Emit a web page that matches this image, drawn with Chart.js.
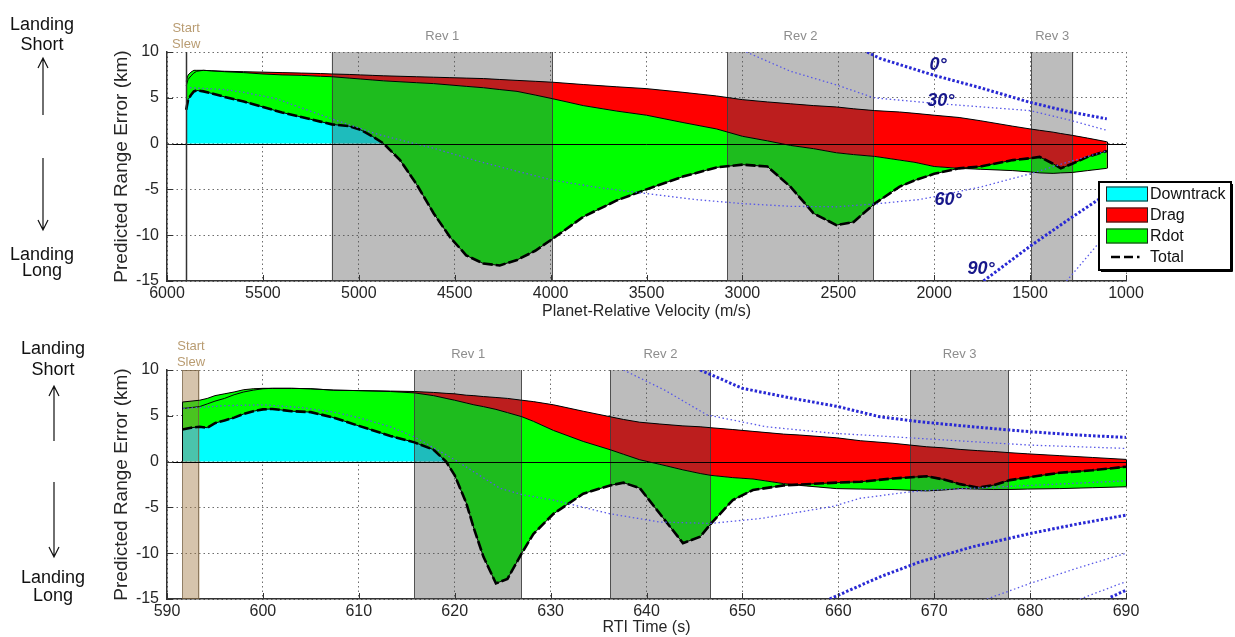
<!DOCTYPE html>
<html>
<head>
<meta charset="utf-8">
<title>Predicted Range Error Contributions</title>
<script src="https://cdn.jsdelivr.net/npm/chart.js@4.4.1/dist/chart.umd.min.js"></script>
<style>
  html, body { margin: 0; padding: 0; background: #fff; }
  #wrap { position: relative; width: 1235px; height: 637px; overflow: hidden; background: #fff; }
  #wrap canvas { position: absolute; left: 0; top: 0; }
</style>
</head>
<body>
<div id="wrap">
  <canvas id="velocityPanel" width="1235" height="637"></canvas>
  <canvas id="timePanel" width="1235" height="637"></canvas>
</div>
<script>
// ---------- Upper panel: contributions vs planet-relative velocity (m/s) ----------
const velocity = [5900, 5890, 5875, 5860, 5845, 5810, 5770, 5700, 5600, 5500,
  5400, 5300, 5200, 5140, 5050, 4990, 4930, 4870, 4785, 4700,
  4610, 4525, 4440, 4350, 4265, 4175, 4080, 3990, 3830, 3655,
  3500, 3310, 3135, 3000, 2870, 2750, 2630, 2510, 2420, 2310,
  2180, 2100, 2000, 1870, 1760, 1590, 1500, 1450, 1380, 1340,
  1280, 1200, 1100];
const velDowntrack = [6.3, 7.0, 7.4, 7.7, 7.9, 8.0, 7.95, 7.9, 7.85, 7.8,
  7.75, 7.7, 7.65, 7.6, 7.55, 7.5, 7.45, 7.4, 7.35, 7.3,
  7.25, 7.2, 7.15, 7.1, 7.0, 6.9, 6.8, 6.7, 6.45, 6.2,
  6.0, 5.6, 5.2, 4.8, 4.55, 4.35, 4.15, 4.0, 3.8, 3.6,
  3.45, 3.3, 3.1, 2.85, 2.5, 1.9, 1.6, 1.45, 1.25, 1.1,
  0.9, 0.6, 0.2];
const velDrag = [0.5, 0.5, 0.4, 0.3, 0.1, 0.0, 0.0, -0.05, -0.1, -0.2,
  -0.25, -0.25, -0.3, -0.3, -0.4, -0.45, -0.5, -0.55, -0.6, -0.65,
  -0.7, -0.8, -0.9, -1.0, -1.1, -1.2, -1.5, -1.8, -2.3, -2.65,
  -2.9, -3.3, -3.6, -4.0, -4.25, -4.55, -4.7, -5.0, -5.0, -5.0,
  -5.25, -5.35, -5.6, -5.55, -5.3, -4.85, -4.7, -4.65, -4.5, -4.3,
  -4.05, -3.55, -2.9];
const velRdot = [-3.1, -2.7, -2.5, -2.3, -2.2, -2.3, -2.45, -2.75, -3.15, -3.6,
  -4.1, -4.55, -4.95, -5.2, -5.25, -5.55, -6.15, -6.85, -8.55, -11.05,
  -14.15, -16.6, -18.45, -19.2, -19.2, -18.4, -17.0, -15.3, -12.15, -9.75,
  -8.1, -5.9, -4.2, -3.1, -2.8, -4.5, -7.05, -7.9, -7.35, -5.15,
  -2.9, -1.95, -0.8, 0.0, 0.3, 1.15, 1.5, 1.75, 1.05, 0.5,
  0.95, 1.5, 1.9];

// bank-angle reference curves (velocity, km)
const velBank0 = [[2350, 10], [2283, 9.3], [2000, 7.45], [1760, 6.1], [1500, 4.5], [1300, 3.5], [1100, 2.7]];
const velBank30 = [[2980, 10], [2750, 7.9], [2509, 6.4], [2314, 5.0], [2000, 4.4], [1750, 4.0], [1500, 3.6], [1300, 2.6], [1100, 1.45]];
const velBank60 = [[5880, 6.1], [5700, 5.9], [5600, 5.6], [5430, 4.9], [5300, 3.9], [5141, 2.7], [4900, 1.0],
  [4611, -0.5], [4400, -1.8], [4160, -3.1], [3986, -4.0], [3750, -4.8], [3500, -5.46], [3250, -6.1],
  [3000, -6.55], [2750, -6.85], [2509, -6.9], [2314, -6.6], [2074, -6.1], [2000, -5.8], [1750, -4.7],
  [1500, -3.3], [1300, -2.0], [1100, -0.8]];
const velBank90 = [[1743, -15], [1500, -11.2], [1300, -8.3], [1150, -6.2], [1100, -5.6]];
const velBankLow = [[1310, -15], [1200, -12.3], [1100, -9.8]];
const velBankLabels = [['0°', 1980, 8.6], ['30°', 1965, 4.65], ['60°', 1928, -6.15], ['90°', 1756, -13.7]];

const velocityRevs = [['Rev 1', 5141, 3988], ['Rev 2', 3080, 2314], ['Rev 3', 1495, 1275]];
const velocitySlew = 5900;
const velocityTicks = [6000, 5500, 5000, 4500, 4000, 3500, 3000, 2500, 2000, 1500, 1000];

// ---------- Lower panel: contributions vs RTI time (s) ----------
const rtiTime = [591.6, 592.5, 593.4, 594.2, 595.0, 596.0, 597.0, 598.0, 599.0, 600.0,
  601.0, 603.0, 605.0, 607.4, 610.0, 613.3, 615.8, 617.8, 619.1, 620.0,
  621.2, 622.0, 623.0, 624.3, 625.5, 627.0, 628.2, 630.3, 633.4, 636.2,
  637.6, 639.3, 641.4, 643.8, 645.6, 646.7, 649.0, 651.1, 654.3, 656.0,
  659.8, 662.3, 665.7, 669.2, 671.0, 672.7, 674.5, 676.2, 677.9, 679.7,
  683.1, 686.5, 690.0];
const timeDowntrack = [5.8, 5.9, 6.0, 6.3, 6.6, 6.9, 7.3, 7.6, 7.8, 7.95,
  8.0, 8.0, 7.95, 7.8, 7.75, 7.7, 7.65, 7.55, 7.45, 7.4,
  7.25, 7.2, 7.1, 7.0, 6.9, 6.7, 6.55, 6.2, 5.5, 4.9,
  4.6, 4.3, 4.1, 3.9, 3.8, 3.7, 3.5, 3.3, 3.0, 2.9,
  2.6, 2.28, 2.0, 1.62, 1.5, 1.33, 1.2, 1.1, 0.97, 0.85,
  0.65, 0.45, 0.24];
const timeDrag = [0.7, 0.7, 0.7, 0.6, 0.6, 0.5, 0.3, 0.25, 0.15, 0.05,
  0.0, 0.0, 0.0, 0.0, 0.0, -0.05, -0.15, -0.35, -0.55, -0.7,
  -0.85, -1.0, -1.1, -1.3, -1.55, -1.8, -2.15, -2.8, -3.3, -3.6,
  -3.8, -4.1, -4.4, -4.8, -5.1, -5.2, -5.25, -5.2, -5.4, -5.5,
  -5.55, -5.28, -5.05, -4.82, -4.6, -4.28, -4.2, -4.15, -4.01, -3.85,
  -3.6, -3.3, -2.99];
const timeRdot = [-3.0, -2.9, -2.9, -3.2, -3.0, -2.9, -2.8, -2.65, -2.45, -2.3,
  -2.25, -2.5, -2.55, -3.0, -3.85, -4.85, -5.4, -5.9, -6.9, -8.2,
  -10.9, -13.5, -16.4, -19.0, -18.15, -14.9, -12.3, -9.1, -5.7, -3.9,
  -3.1, -3.1, -5.4, -8.0, -6.9, -5.3, -2.45, -1.2, -0.2, 0.1,
  0.65, 0.8, 1.21, 1.6, 1.15, 0.49, 0.17, 0.48, 1.02, 1.27,
  1.73, 1.9, 2.19];

const timeBank0 = [[645.6, 10], [650, 8.0], [655, 6.95], [660, 6.0], [664.3, 4.9], [668.5, 4.35], [674, 3.8], [680, 3.26], [685, 2.9], [690, 2.64]];
const timeBank30 = [[637.6, 10], [641.9, 7.8], [646.3, 5.1], [652.5, 3.8], [659.4, 3.1], [668.5, 2.53], [680, 1.8], [690, 1.44]];
const timeBank60 = [[591.7, 5.8], [596, 6.1], [600, 6.2], [604, 5.9], [607.4, 5.4], [610, 4.8], [613.3, 3.8], [615.8, 2.7],
  [620, 0.2], [624.7, -2.9], [627, -3.6], [630.3, -4.2], [636.2, -5.7], [641.4, -6.6], [646.7, -6.75],
  [652, -6.2], [659.4, -4.9], [662.3, -4.0], [667.5, -3.3], [670, -3.1], [680, -2.6], [690, -2.1]];
const timeBank90 = [[659.1, -15], [664.3, -12.6], [668.5, -10.95], [674, -9.3], [680, -7.85], [685, -6.8], [690, -5.85]];
const timeBankLow1 = [[675.5, -15], [680, -13.3], [685, -11.6], [690, -10.0]];
const timeBankLow2 = [[685.2, -15], [690, -13.1]];
const timeBankLow3 = [[688.4, -14.8], [690, -14.05]];

const timeRevs = [['Rev 1', 615.8, 627.0], ['Rev 2', 636.2, 646.7], ['Rev 3', 667.5, 677.8]];
const timeSlew = [591.6, 593.4];
const timeTicks = [590, 600, 610, 620, 630, 640, 650, 660, 670, 680, 690];

const errorTicks = [-15, -10, -5, 0, 5, 10];
const seriesNames = ['Downtrack', 'Drag', 'Rdot', 'Total'];

// ---------- drawing helpers ----------
const FONT = "'Liberation Sans', Arial, Helvetica, sans-serif";
const CYAN = '#00ffff', RED = '#ff0000', GREEN = '#00ff00';
const AXIS_TEXT = '#262626';

// running sums: downtrack, then + drag, then + rdot (= total)
function edgesFrom(xs, downtrack, drag, rdot) {
  const e1 = [], e2 = [], e3 = [];
  xs.forEach((x, i) => {
    const a = downtrack[i], b = a + drag[i], c = b + rdot[i];
    e1.push({x, y: a}); e2.push({x, y: b}); e3.push({x, y: c});
  });
  return {e1, e2, e3};
}

function guide(pts, heavy) {
  return {
    data: pts.map(([x, y]) => ({x, y})), fill: false, order: 0,
    borderColor: heavy ? 'rgb(40,40,212)' : 'rgb(88,88,232)',
    borderWidth: heavy ? 3 : 1.3,
    borderDash: heavy ? [2.5, 2] : [1.5, 2.6]
  };
}

function contributionSets(edges) {
  return [
    {label: seriesNames[0], data: edges.e1, fill: 'origin', backgroundColor: CYAN, borderColor: '#000', borderWidth: 1, order: 4},
    {label: seriesNames[1], data: edges.e2, fill: '-1', backgroundColor: RED, borderColor: '#000', borderWidth: 1, order: 3},
    {label: seriesNames[2], data: edges.e3, fill: '-1', backgroundColor: GREEN, borderColor: '#000', borderWidth: 1, order: 2},
    {label: seriesNames[3], data: edges.e3, fill: false, borderColor: '#000', borderWidth: 2.6, borderDash: [10, 3], order: 1}
  ];
}

function arrow(ctx, x, yFrom, yTo) {
  const d = yTo < yFrom ? 1 : -1;
  ctx.beginPath();
  ctx.moveTo(x, yFrom); ctx.lineTo(x, yTo);
  ctx.moveTo(x - 5, yTo + d * 10); ctx.lineTo(x, yTo); ctx.lineTo(x + 5, yTo + d * 10);
  ctx.stroke();
}

function makeDecor(p) {
  return {
    id: 'panelDecor',
    beforeDatasetsDraw(chart) {
      const {ctx, chartArea: a, scales: {x}} = chart;
      ctx.save();
      p.revs.forEach(([, v0, v1]) => {
        const q0 = x.getPixelForValue(v0), q1 = x.getPixelForValue(v1);
        const l = Math.min(q0, q1), r = Math.max(q0, q1);
        ctx.fillStyle = 'rgba(80,80,80,0.38)';
        ctx.fillRect(l, a.top, r - l, a.bottom - a.top);
        ctx.strokeStyle = 'rgba(60,60,60,0.85)';
        ctx.lineWidth = 1;
        ctx.beginPath();
        ctx.moveTo(Math.round(l) + 0.5, a.top); ctx.lineTo(Math.round(l) + 0.5, a.bottom);
        ctx.moveTo(Math.round(r) - 0.5, a.top); ctx.lineTo(Math.round(r) - 0.5, a.bottom);
        ctx.stroke();
      });
      if (p.slewBand) {
        const l = x.getPixelForValue(p.slewBand[0]), r = x.getPixelForValue(p.slewBand[1]);
        ctx.fillStyle = 'rgba(165,125,70,0.45)';
        ctx.fillRect(l, a.top, r - l, a.bottom - a.top);
        ctx.strokeStyle = 'rgba(110,90,60,0.7)';
        ctx.lineWidth = 1;
        ctx.strokeRect(Math.round(l) + 0.5, a.top + 0.5, Math.round(r - l) - 1, a.bottom - a.top - 1);
      }
      ctx.restore();
    },
    afterDatasetsDraw(chart) {
      const {ctx, chartArea: a, scales: {x, y}} = chart;
      ctx.save();
      // closing edges of the stacked patches
      ctx.strokeStyle = '#000';
      ctx.lineWidth = 1;
      [0, p.edges.e1.length - 1].forEach(i => {
        const vals = [0, p.edges.e1[i].y, p.edges.e2[i].y, p.edges.e3[i].y];
        const px = Math.round(x.getPixelForValue(p.edges.e1[i].x)) + 0.5;
        ctx.beginPath();
        ctx.moveTo(px, y.getPixelForValue(Math.max(...vals)));
        ctx.lineTo(px, y.getPixelForValue(Math.min(...vals)));
        ctx.stroke();
      });
      // zero reference
      const y0 = Math.round(y.getPixelForValue(0)) + 0.5;
      ctx.beginPath(); ctx.moveTo(a.left, y0); ctx.lineTo(a.right, y0); ctx.stroke();
      // slew marker line
      if (p.slewLine !== undefined) {
        const sx = Math.round(x.getPixelForValue(p.slewLine)) + 0.5;
        ctx.strokeStyle = '#333';
        ctx.lineWidth = 1.5;
        ctx.beginPath(); ctx.moveTo(sx, a.top); ctx.lineTo(sx, a.bottom); ctx.stroke();
      }
      // inward tick marks
      ctx.strokeStyle = '#333';
      ctx.lineWidth = 1;
      ctx.beginPath();
      p.xTicks.forEach(v => {
        const tx = Math.round(x.getPixelForValue(v)) + 0.5;
        ctx.moveTo(tx, a.bottom); ctx.lineTo(tx, a.bottom - 6);
      });
      errorTicks.forEach(v => {
        const ty = Math.round(y.getPixelForValue(v)) + 0.5;
        ctx.moveTo(a.left, ty); ctx.lineTo(a.left + 6, ty);
      });
      ctx.stroke();

      // window names above the plot
      ctx.textAlign = 'center';
      ctx.textBaseline = 'middle';
      ctx.font = `13px ${FONT}`;
      ctx.fillStyle = '#8d8d8d';
      p.revs.forEach(([name, v0, v1]) => {
        ctx.fillText(name, (x.getPixelForValue(v0) + x.getPixelForValue(v1)) / 2, a.top - 16);
      });
      const slewX = p.slewBand
        ? (x.getPixelForValue(p.slewBand[0]) + x.getPixelForValue(p.slewBand[1])) / 2
        : x.getPixelForValue(p.slewLine);
      ctx.fillStyle = '#b99c72';
      ctx.fillText('Start', slewX, a.top - 24);
      ctx.fillText('Slew', slewX, a.top - 8);

      // bank-angle labels
      if (p.bankLabels) {
        ctx.font = `italic bold 18px ${FONT}`;
        ctx.fillStyle = '#17178a';
        p.bankLabels.forEach(([t, v, e]) => ctx.fillText(t, x.getPixelForValue(v), y.getPixelForValue(e)));
      }

      // legend
      if (p.legend) {
        const L = p.legend;
        ctx.fillStyle = '#fff';
        ctx.fillRect(L.x, L.y, L.w, L.h);
        ctx.strokeStyle = '#000';
        ctx.lineWidth = 2;
        ctx.strokeRect(L.x, L.y, L.w, L.h);
        ctx.lineWidth = 1;
        ctx.beginPath();
        ctx.moveTo(L.x + L.w + 1.5, L.y + 2); ctx.lineTo(L.x + L.w + 1.5, L.y + L.h + 1.5); ctx.lineTo(L.x + 2, L.y + L.h + 1.5);
        ctx.stroke();
        const fills = [CYAN, RED, GREEN];
        ctx.font = `16px ${FONT}`;
        ctx.textAlign = 'left';
        ctx.textBaseline = 'middle';
        seriesNames.forEach((name, i) => {
          const cy = L.y + 12 + i * 21;
          if (i < 3) {
            ctx.fillStyle = fills[i];
            ctx.fillRect(L.x + 7, cy - 7.5, 42, 15);
            ctx.strokeStyle = '#222';
            ctx.lineWidth = 1;
            ctx.strokeRect(L.x + 7.5, cy - 7, 41, 14);
          } else {
            ctx.strokeStyle = '#000';
            ctx.lineWidth = 2.6;
            ctx.setLineDash([9, 4, 9, 4, 2.5, 40]);
            ctx.beginPath(); ctx.moveTo(L.x + 12, cy); ctx.lineTo(L.x + 50, cy); ctx.stroke();
            ctx.setLineDash([]);
          }
          ctx.fillStyle = '#111';
          ctx.fillText(name, L.x + 51, cy + 1);
        });
      }

      // direction notes at the left margin
      const n = p.note;
      ctx.font = `18px ${FONT}`;
      ctx.fillStyle = '#111';
      ctx.textAlign = 'center';
      ctx.textBaseline = 'alphabetic';
      ctx.fillText('Landing', n.cx, n.b1);
      ctx.fillText('Short', n.cx, n.b2);
      ctx.fillText('Landing', n.cx, n.b3);
      ctx.fillText('Long', n.cx, n.b4);
      ctx.strokeStyle = '#111';
      ctx.lineWidth = 1.2;
      arrow(ctx, n.ax, n.up[0], n.up[1]);
      arrow(ctx, n.ax, n.down[0], n.down[1]);
      ctx.restore();
    }
  };
}

function buildPanel(canvasId, cfg) {
  const edges = edgesFrom(cfg.xs, cfg.downtrack, cfg.drag, cfg.rdot);
  const datasets = contributionSets(edges).concat(cfg.guides);
  return new Chart(document.getElementById(canvasId), {
    type: 'line',
    data: {datasets},
    options: {
      responsive: false,
      animation: false,
      events: [],
      layout: {padding: cfg.padding},
      elements: {point: {radius: 0}, line: {tension: 0}},
      plugins: {
        legend: {display: false},
        tooltip: {enabled: false},
        filler: {drawTime: 'beforeDatasetsDraw', propagate: false}
      },
      scales: {
        x: {
          type: 'linear',
          reverse: cfg.reverse,
          min: cfg.xMin, max: cfg.xMax,
          afterBuildTicks: s => { s.ticks = cfg.xTicks.map(v => ({value: v})); },
          afterFit: s => { s.height = cfg.xAxisHeight; },
          grid: {color: 'rgba(60,60,60,0.75)', lineWidth: 1, drawTicks: false},
          border: {display: true, color: '#333', width: 1.5, dash: [1.5, 3]},
          ticks: {font: {family: FONT, size: 16}, color: AXIS_TEXT, padding: 3, maxRotation: 0, autoSkip: false, callback: v => String(v)},
          title: {display: true, text: cfg.xTitle, font: {family: FONT, size: 16}, color: AXIS_TEXT, padding: {top: 0, bottom: 0}}
        },
        y: {
          type: 'linear',
          min: -15, max: 10,
          afterBuildTicks: s => { s.ticks = errorTicks.map(v => ({value: v})); },
          afterFit: s => { s.width = 167; },
          grid: {color: 'rgba(60,60,60,0.75)', lineWidth: 1, drawTicks: false},
          border: {display: true, color: '#333', width: 1.5, dash: [1.5, 3]},
          ticks: {font: {family: FONT, size: 16}, color: AXIS_TEXT, padding: 8, callback: v => String(v)},
          title: {display: true, text: 'Predicted Range Error (km)', font: {family: FONT, size: 19}, color: AXIS_TEXT, padding: {top: 110, bottom: 0}}
        }
      }
    },
    plugins: [makeDecor({
      edges,
      revs: cfg.revs,
      slewLine: cfg.slewLine,
      slewBand: cfg.slewBand,
      xTicks: cfg.xTicks,
      bankLabels: cfg.bankLabels,
      legend: cfg.legend,
      note: cfg.note
    })]
  });
}

buildPanel('velocityPanel', {
  xs: velocity, downtrack: velDowntrack, drag: velDrag, rdot: velRdot,
  reverse: true, xMin: 1000, xMax: 6000, xTicks: velocityTicks,
  xTitle: 'Planet-Relative Velocity (m/s)',
  padding: {top: 52, right: 109, bottom: 316, left: 0}, xAxisHeight: 40,
  revs: velocityRevs, slewLine: velocitySlew,
  bankLabels: velBankLabels,
  guides: [guide(velBank0, true), guide(velBank30, false), guide(velBank60, false), guide(velBank90, true), guide(velBankLow, false)],
  legend: {x: 1099, y: 182, w: 132, h: 88},
  note: {cx: 42, ax: 43, b1: 29.5, b2: 50, b3: 259.5, b4: 276, up: [115, 58], down: [158, 230]}
});

buildPanel('timePanel', {
  xs: rtiTime, downtrack: timeDowntrack, drag: timeDrag, rdot: timeRdot,
  reverse: false, xMin: 590, xMax: 690, xTicks: timeTicks,
  xTitle: 'RTI Time (s)',
  padding: {top: 370, right: 109, bottom: 0, left: 0}, xAxisHeight: 38,
  revs: timeRevs, slewBand: timeSlew,
  guides: [guide(timeBank0, true), guide(timeBank30, false), guide(timeBank60, false), guide(timeBank90, true),
           guide(timeBankLow1, false), guide(timeBankLow2, false), guide(timeBankLow3, true)],
  note: {cx: 53, ax: 54, b1: 354, b2: 375, b3: 583, b4: 601, up: [441, 386], down: [482, 557]}
});
</script>
</body>
</html>
